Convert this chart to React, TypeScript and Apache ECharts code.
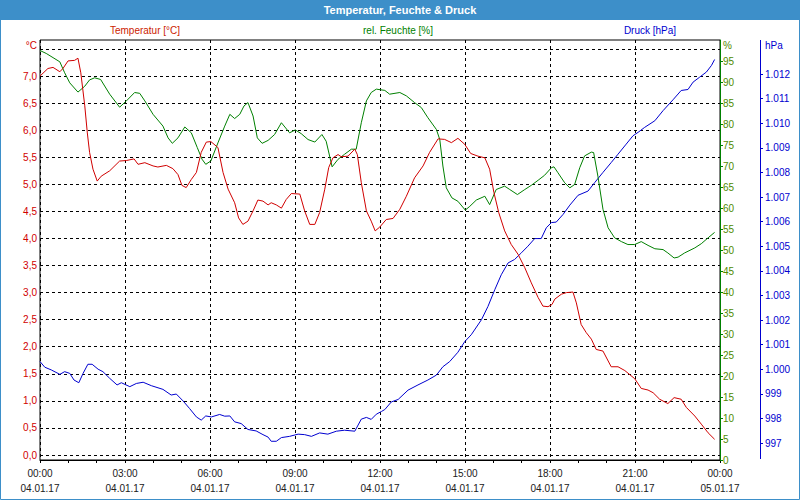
import React, { useEffect, useRef } from "react";
import * as echarts from "echarts";

// ---- Data (hours since 04.01.17 00:00) ----
const tempHours = [0.00,0.28,0.46,0.70,0.81,0.99,1.22,1.34,1.44,1.58,1.67,1.75,1.87,2.02,2.16,2.46,2.81,3.05,3.32,3.46,3.70,3.99,4.16,4.46,4.69,4.87,5.01,5.16,5.34,5.52,5.69,5.87,6.03,6.28,6.46,6.64,6.87,7.01,7.16,7.34,7.52,7.69,7.87,8.05,8.16,8.34,8.52,8.69,8.87,9.17,9.34,9.52,9.70,9.87,10.05,10.19,10.34,10.52,10.63,10.87,11.11,11.20,11.34,11.52,11.69,11.83,11.99,12.22,12.46,12.70,12.93,13.22,13.52,13.75,14.05,14.28,14.52,14.75,14.99,15.20,15.46,15.70,15.87,16.02,16.19,16.40,16.63,16.87,17.11,17.34,17.58,17.75,17.93,18.07,18.17,18.40,18.58,18.81,18.93,19.10,19.28,19.46,19.63,19.87,20.16,20.40,20.64,20.99,21.22,21.46,21.64,21.87,22.16,22.38,22.63,22.81,23.11,23.34,23.58,23.81];
const tempValues = [7.00,7.14,7.16,7.08,7.14,7.28,7.29,7.33,7.06,6.45,5.95,5.59,5.28,5.06,5.15,5.25,5.43,5.44,5.47,5.37,5.40,5.34,5.32,5.35,5.29,5.18,4.98,4.94,5.09,5.22,5.59,5.78,5.79,5.68,5.22,4.91,4.66,4.38,4.26,4.32,4.51,4.71,4.69,4.62,4.66,4.62,4.56,4.72,4.83,4.82,4.51,4.26,4.26,4.48,4.91,5.31,5.49,5.55,5.51,5.52,5.65,5.55,5.03,4.51,4.32,4.14,4.21,4.35,4.37,4.54,4.78,5.12,5.34,5.59,5.84,5.83,5.77,5.85,5.74,5.57,5.52,5.49,5.28,4.85,4.48,4.14,3.89,3.71,3.46,3.18,2.91,2.75,2.74,2.78,2.88,2.97,3.00,3.01,2.81,2.41,2.26,2.14,1.95,1.92,1.63,1.63,1.56,1.41,1.23,1.20,1.15,1.03,0.95,1.06,1.03,0.88,0.72,0.57,0.41,0.29];

const humHours = [0.00,0.22,0.46,0.70,0.87,1.05,1.34,1.58,1.75,1.93,2.14,2.46,2.81,3.05,3.34,3.52,3.70,3.99,4.34,4.52,4.67,4.87,5.11,5.34,5.55,5.72,5.85,6.03,6.28,6.52,6.70,6.87,7.05,7.20,7.34,7.52,7.67,7.84,8.05,8.28,8.52,8.81,9.01,9.22,9.46,9.70,9.95,10.10,10.31,10.52,10.75,10.99,11.16,11.34,11.52,11.69,11.87,12.17,12.34,12.70,12.93,13.22,13.46,13.69,13.99,14.11,14.22,14.34,14.54,14.75,15.01,15.17,15.40,15.70,15.87,16.10,16.40,16.58,16.85,17.11,17.34,17.58,17.81,18.05,18.14,18.28,18.52,18.70,18.87,19.05,19.22,19.46,19.54,19.69,19.87,20.05,20.28,20.52,20.75,20.99,21.22,21.46,21.70,21.99,22.16,22.38,22.52,22.75,23.11,23.34,23.58,23.81];
const humValues = [97.5,96.8,95.8,94.8,92.2,89.8,87.6,89.0,90.5,91.0,90.6,87.1,84.0,85.5,87.5,87.3,85.5,82.3,79.5,76.7,75.4,76.7,79.3,77.9,74.4,71.6,70.4,71.2,75.5,79.5,82.3,81.3,82.3,84.3,85.1,81.9,76.7,75.4,76.1,77.5,80.3,77.9,78.6,77.7,76.3,75.7,77.5,75.9,69.8,71.6,72.8,74.0,74.0,80.3,85.5,87.5,88.3,88.0,87.1,87.5,86.7,85.1,83.9,81.5,78.7,76.3,70.0,64.8,62.4,61.6,59.5,60.4,61.9,62.8,60.8,64.4,65.2,64.4,63.2,64.4,65.4,66.6,67.8,69.6,69.8,68.4,66.0,64.8,65.6,69.6,72.4,73.3,73.2,67.6,59.7,55.3,52.9,52.0,51.3,51.3,52.0,51.1,50.3,50.1,49.3,48.1,48.3,49.3,50.5,51.5,52.9,54.2];

const pressHours = [0.00,0.17,0.40,0.70,0.87,1.05,1.20,1.37,1.52,1.69,1.84,2.05,2.22,2.46,2.72,2.87,3.17,3.40,3.64,3.93,4.34,4.63,4.81,5.05,5.28,5.52,5.69,5.85,6.05,6.34,6.52,6.70,6.87,7.10,7.34,7.63,7.87,8.05,8.16,8.34,8.52,8.81,9.11,9.34,9.58,9.87,10.16,10.46,10.75,11.11,11.34,11.52,11.69,11.87,12.05,12.17,12.40,12.64,12.99,13.34,13.69,13.99,14.22,14.46,14.75,14.99,15.22,15.58,15.81,16.05,16.28,16.52,16.75,16.99,17.22,17.46,17.69,17.87,18.05,18.22,18.46,18.70,18.99,19.34,19.58,19.87,20.16,20.40,20.69,20.93,21.11,21.34,21.70,21.99,22.34,22.63,22.87,23.05,23.28,23.52,23.70,23.81];
const pressValues = [1000.31,1000.08,999.97,999.79,999.90,999.83,999.56,999.45,999.83,1000.20,1000.20,1000.00,999.90,999.63,999.36,999.45,999.29,999.42,999.47,999.33,999.18,998.95,998.99,998.71,998.40,998.06,997.93,998.10,998.06,998.16,998.09,998.10,997.86,997.79,997.55,997.49,997.34,997.24,997.07,997.07,997.22,997.27,997.36,997.34,997.27,997.41,997.36,997.48,997.52,997.48,997.97,998.04,997.96,998.17,998.28,998.36,998.67,998.77,999.15,999.36,999.56,999.76,1000.10,1000.31,1000.69,1001.12,1001.40,1002.01,1002.55,1003.23,1003.84,1004.32,1004.46,1004.73,1005.00,1005.31,1005.31,1005.75,1005.96,1005.98,1006.29,1006.67,1007.07,1007.24,1007.59,1008.00,1008.40,1008.74,1009.15,1009.49,1009.63,1009.83,1010.10,1010.51,1010.95,1011.33,1011.37,1011.67,1011.87,1012.08,1012.35,1012.59];

const chartTitle = "Temperatur, Feuchte & Druck";
const tempLabel = "Temperatur [°C]";
const humLabel = "rel. Feuchte [%]";
const pressLabel = "Druck [hPa]";
const dayStart = "04.01.17";
const dayEnd = "05.01.17";

const FONT = "Liberation Sans, Arial, sans-serif";
const RED = "#d00000";
const GREEN = "#008000";
const BLUE = "#0000d0";

const pairs = (xs: number[], ys: number[]) => xs.map((x, i) => [x, ys[i]]);

export default function App() {
  const ref = useRef<HTMLDivElement>(null);
  useEffect(() => {
    if (!ref.current) return;
    const chart = echarts.init(ref.current, null, { renderer: "svg" });
    const dashed = { color: "#000", type: [3, 3] as any, width: 1 };
    const hiddenX = (gi: number) => ({
      type: "value", gridIndex: gi, min: 0, max: 24, interval: 3, show: false,
      axisLine: { onZero: false },
    });
    chart.setOption({
      animation: false,
      backgroundColor: "#fff",
      grid: [
        { left: 40, right: 80, top: 49, bottom: 45 },
        { left: 40, right: 80, top: 40, bottom: 40, show: true, borderColor: "#000", borderWidth: 1, backgroundColor: "transparent" },
        { left: 40, right: 80, top: 74, bottom: 57 },
      ],
      xAxis: [
        hiddenX(0),
        {
          type: "value", gridIndex: 1, min: 0, max: 24, interval: 3,
          axisLine: { show: true, onZero: false, lineStyle: { color: "#000", width: 1 } },
          axisTick: { show: true, length: 3, lineStyle: { color: "#000" } },
          minorTick: { show: true, splitNumber: 3, length: 3, lineStyle: { color: "#000" } },
          splitLine: { show: true, lineStyle: dashed },
          axisLabel: {
            margin: 6, fontSize: 10, fontFamily: FONT, color: "#202020", lineHeight: 15,
            showMinLabel: true, showMaxLabel: true,
            formatter: (v: number) => {
              const h = Math.round(v) % 24;
              const hh = (h < 10 ? "0" : "") + h + ":00";
              return hh + "\n" + (v >= 24 ? dayEnd : dayStart);
            },
          },
        },
        hiddenX(2),
      ],
      yAxis: [
        {
          type: "value", gridIndex: 0, min: 0, max: 7.5, interval: 0.5, position: "left",
          axisLine: { show: false, onZero: false }, axisTick: { show: false },
          splitLine: { show: true, lineStyle: dashed },
          axisLabel: {
            margin: 3, fontSize: 10, fontFamily: FONT, color: "#d00000", showMaxLabel: false,
            formatter: (v: number) => v.toFixed(1).replace(".", ","),
          },
        },
        {
          type: "value", gridIndex: 1, min: 0, max: 100, interval: 5, position: "right", z: 3,
          axisLine: { show: true, onZero: false, lineStyle: { color: GREEN, width: 1 } },
          axisTick: { show: true, length: 3, lineStyle: { color: GREEN } },
          splitLine: { show: false },
          axisLabel: {
            margin: 3, fontSize: 10, fontFamily: FONT, color: "#4f8a00", showMaxLabel: false,
          },
        },
        {
          type: "value", gridIndex: 2, min: 997, max: 1012, interval: 1, position: "right", offset: 40,
          axisLine: { show: false, onZero: false },
          axisTick: { show: true, length: 3, lineStyle: { color: BLUE } },
          splitLine: { show: false },
          axisLabel: {
            margin: 5, fontSize: 10, fontFamily: FONT, color: BLUE,
            formatter: (v: number) => (v >= 1000 ? "1." + String(Math.round(v - 1000)).padStart(3, "0") : String(v)),
          },
        },
      ],
      series: [
        {
          type: "line", xAxisIndex: 0, yAxisIndex: 0, data: pairs(tempHours, tempValues),
          showSymbol: false, clip: false, lineStyle: { color: RED, width: 1 }, z: 4,
        },
        {
          type: "line", xAxisIndex: 1, yAxisIndex: 1, data: pairs(humHours, humValues),
          showSymbol: false, clip: false, lineStyle: { color: GREEN, width: 1 }, z: 3,
        },
        {
          type: "line", xAxisIndex: 2, yAxisIndex: 2, data: pairs(pressHours, pressValues),
          showSymbol: false, clip: false, lineStyle: { color: BLUE, width: 1 }, z: 2,
        },
      ],
      graphic: [
        { type: "rect", shape: { x: 0, y: 0, width: 800, height: 20 }, style: { fill: "#3d8fc9" }, z: 10 },
        { type: "rect", shape: { x: 0.5, y: 0.5, width: 799, height: 499 }, style: { fill: "none", stroke: "#3d8fc9", lineWidth: 1 }, z: 10 },
        { type: "text", x: 400, y: 10, style: { text: chartTitle, fill: "#fff", font: `bold 11px ${FONT}`, textAlign: "center", textVerticalAlign: "middle" }, z: 11 },
        { type: "text", x: 145, y: 30, style: { text: tempLabel, fill: "#cc2200", font: `10px ${FONT}`, textAlign: "center", textVerticalAlign: "middle" }, z: 11 },
        { type: "text", x: 398, y: 30, style: { text: humLabel, fill: GREEN, font: `10px ${FONT}`, textAlign: "center", textVerticalAlign: "middle" }, z: 11 },
        { type: "text", x: 650, y: 30, style: { text: pressLabel, fill: BLUE, font: `10px ${FONT}`, textAlign: "center", textVerticalAlign: "middle" }, z: 11 },
        { type: "text", x: 37, y: 45, style: { text: "°C", fill: "#d00000", font: `10px ${FONT}`, textAlign: "right", textVerticalAlign: "middle" }, z: 11 },
        { type: "text", x: 723, y: 45, style: { text: "%", fill: "#4f8a00", font: `10px ${FONT}`, textAlign: "left", textVerticalAlign: "middle" }, z: 11 },
        { type: "text", x: 765, y: 45, style: { text: "hPa", fill: BLUE, font: `10px ${FONT}`, textAlign: "left", textVerticalAlign: "middle" }, z: 11 },
        { type: "line", shape: { x1: 760.5, y1: 40, x2: 760.5, y2: 459 }, style: { stroke: BLUE, lineWidth: 1 }, z: 11 },
      ],
    });
    return () => chart.dispose();
  }, []);
  return <div ref={ref} style={{ position: "fixed", left: 0, top: 0, width: 800, height: 500 }} />;
}
